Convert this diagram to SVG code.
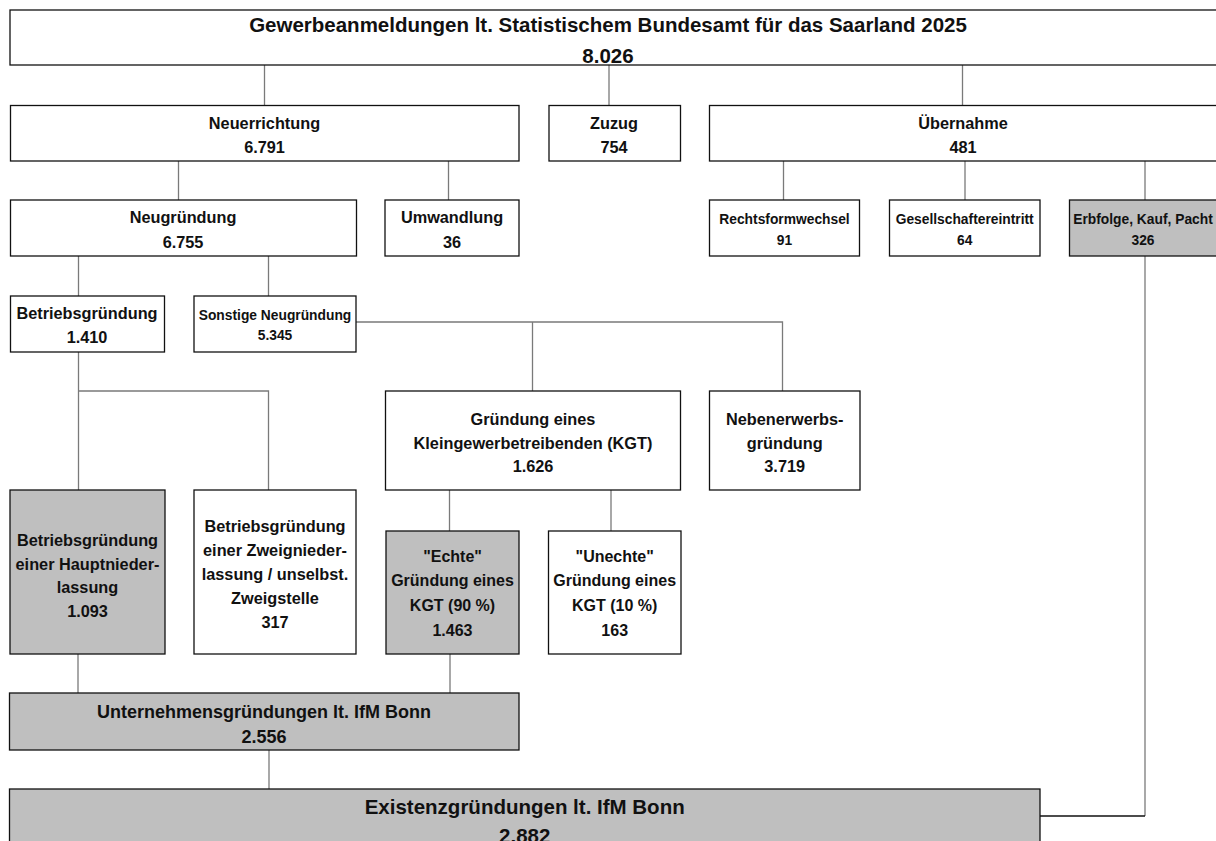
<svg xmlns="http://www.w3.org/2000/svg" width="1216" height="841" viewBox="0 0 1216 841">
<style>
.box{fill:#ffffff;stroke:#111111;stroke-width:1.3}
.g{fill:#bfbfbf}
.c{fill:none;stroke:#7a7a7a;stroke-width:1.3}
text{font-family:"Liberation Sans",Arial,sans-serif;font-weight:bold;fill:#111111;text-anchor:middle;dominant-baseline:central}
.t20{font-size:20.5px}
.t18{font-size:18px}
.t16{font-size:16.3px}
.t14{font-size:13.8px}
.t16b{font-size:16px}
</style>
<rect width="1216" height="841" fill="#ffffff"/>
<g id="connectors">
<path class="c" d="M264.5 65V105.5M609 65V105.5M962.5 65V105.5"/>
<path class="c" d="M178.5 161V200M448.5 161V200M783.5 161V200M965 161V200M1145 161V200"/>
<path class="c" d="M78.5 256V296M268.5 256V296"/>
<path class="c" d="M356 322H782.5V391M532.5 322V391"/>
<path class="c" d="M78.5 352V490M78.5 391H268.5V490"/>
<path class="c" d="M449.5 490V531M611 490V531"/>
<path class="c" d="M78 654V693M450 654V693"/>
<path class="c" d="M269 750V789"/>
<path class="c" d="M1145 256V816"/>
<path fill="none" stroke="#111111" stroke-width="1.3" d="M1145 816H1040"/>
</g>
<g id="n-gewerbeanmeldungen">
<rect class="box" x="10" y="10" width="1212" height="55"/>
<text class="t20" x="608" y="24">Gewerbeanmeldungen lt. Statistischem Bundesamt für das Saarland 2025</text>
<text class="t20" x="608" y="55">8.026</text>
</g>
<g id="n-neuerrichtung">
<rect class="box" x="10.5" y="105.5" width="508.5" height="55.5"/>
<text class="t16" x="264.5" y="123">Neuerrichtung</text>
<text class="t16" x="264.5" y="147">6.791</text>
</g>
<g id="n-zuzug">
<rect class="box" x="549" y="105.5" width="131.5" height="55.5"/>
<text class="t16" x="614" y="123">Zuzug</text>
<text class="t16" x="614" y="147">754</text>
</g>
<g id="n-uebernahme">
<rect class="box" x="709.5" y="105.5" width="507.5" height="55.5"/>
<text class="t16" x="963" y="123">Übernahme</text>
<text class="t16" x="963" y="147">481</text>
</g>
<g id="n-neugruendung">
<rect class="box" x="10.5" y="200" width="346" height="56"/>
<text class="t16" x="183" y="217">Neugründung</text>
<text class="t16" x="183" y="242">6.755</text>
</g>
<g id="n-umwandlung">
<rect class="box" x="385" y="200" width="134" height="56"/>
<text class="t16" x="452" y="217">Umwandlung</text>
<text class="t16" x="452" y="242">36</text>
</g>
<g id="n-rechtsformwechsel">
<rect class="box" x="709.5" y="200" width="150" height="56"/>
<text class="t14" x="784.5" y="219">Rechtsformwechsel</text>
<text class="t14" x="784.5" y="240">91</text>
</g>
<g id="n-gesellschaftereintritt">
<rect class="box" x="889.5" y="200" width="150.5" height="56"/>
<text class="t14" x="964.7" y="219">Gesellschaftereintritt</text>
<text class="t14" x="964.7" y="240">64</text>
</g>
<g id="n-erbfolge">
<rect class="box g" x="1069.5" y="200" width="147.5" height="56"/>
<text class="t14" x="1143" y="219">Erbfolge, Kauf, Pacht</text>
<text class="t14" x="1143" y="240">326</text>
</g>
<g id="n-betriebsgruendung">
<rect class="box" x="10.5" y="296" width="154" height="56"/>
<text class="t16" x="87" y="313">Betriebsgründung</text>
<text class="t16" x="87" y="337">1.410</text>
</g>
<g id="n-sonstige">
<rect class="box" x="194" y="296" width="162" height="56"/>
<text class="t14" x="275" y="315">Sonstige Neugründung</text>
<text class="t14" x="275" y="335">5.345</text>
</g>
<g id="n-kgt">
<rect class="box" x="385.5" y="391" width="295" height="99"/>
<text class="t16" x="533" y="419">Gründung eines</text>
<text class="t16" x="533" y="442.5">Kleingewerbetreibenden (KGT)</text>
<text class="t16" x="533" y="466">1.626</text>
</g>
<g id="n-nebenerwerb">
<rect class="box" x="709.5" y="391" width="150.5" height="99"/>
<text class="t16" x="784.7" y="419">Nebenerwerbs-</text>
<text class="t16" x="784.7" y="442.5">gründung</text>
<text class="t16" x="784.7" y="466">3.719</text>
</g>
<g id="n-hauptniederlassung">
<rect class="box g" x="10" y="490" width="155" height="164"/>
<text class="t16" x="87.5" y="540">Betriebsgründung</text>
<text class="t16" x="87.5" y="563.5">einer Hauptnieder-</text>
<text class="t16" x="87.5" y="587">lassung</text>
<text class="t16" x="87.5" y="610.5">1.093</text>
</g>
<g id="n-zweigniederlassung">
<rect class="box" x="194" y="490" width="162" height="164"/>
<text class="t16" x="275" y="526">Betriebsgründung</text>
<text class="t16" x="275" y="550">einer Zweignieder-</text>
<text class="t16" x="275" y="574">lassung / unselbst.</text>
<text class="t16" x="275" y="598">Zweigstelle</text>
<text class="t16" x="275" y="622">317</text>
</g>
<g id="n-echte">
<rect class="box g" x="386" y="531" width="133" height="123"/>
<text class="t16b" x="452.5" y="556">"Echte"</text>
<text class="t16b" x="452.5" y="580.5">Gründung eines</text>
<text class="t16b" x="452.5" y="605.5">KGT (90 %)</text>
<text class="t16b" x="452.5" y="630">1.463</text>
</g>
<g id="n-unechte">
<rect class="box" x="548.5" y="531" width="132.5" height="123"/>
<text class="t16b" x="614.7" y="556">"Unechte"</text>
<text class="t16b" x="614.7" y="580.5">Gründung eines</text>
<text class="t16b" x="614.7" y="605.5">KGT (10 %)</text>
<text class="t16b" x="614.7" y="630">163</text>
</g>
<g id="n-unternehmensgruendungen">
<rect class="box g" x="9.5" y="693" width="509.5" height="57"/>
<text class="t18" x="264" y="712">Unternehmensgründungen lt. IfM Bonn</text>
<text class="t18" x="264" y="737">2.556</text>
</g>
<g id="n-existenzgruendungen">
<rect class="box g" x="9.5" y="789" width="1030.5" height="70"/>
<text class="t20" x="524.7" y="806">Existenzgründungen lt. IfM Bonn</text>
<text class="t20" x="524.7" y="835">2.882</text>
</g>
</svg>
